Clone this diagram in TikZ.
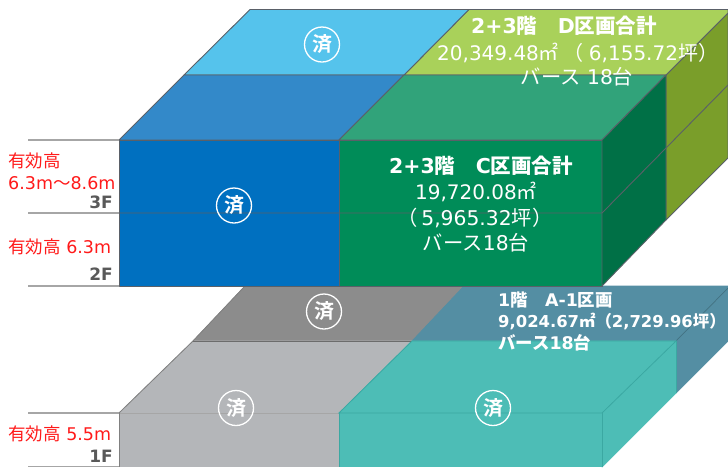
\documentclass[tikz,border=0pt]{standalone}
\usepackage{fontspec}
\setmainfont{DejaVu Sans}
\newfontfamily\cj{Noto Sans CJK JP}
\newfontfamily\cjb{Noto Sans CJK JP Bold}
\definecolor{edgeC}{HTML}{5A6068}
\definecolor{floorC}{HTML}{A6A6A6}
\definecolor{blueF}{HTML}{0070C0}
\definecolor{blueT}{HTML}{3389C9}
\definecolor{blueB}{HTML}{55C3EC}
\definecolor{greenF}{HTML}{008C58}
\definecolor{greenT}{HTML}{31A37A}
\definecolor{greenS}{HTML}{007046}
\definecolor{oliveS}{HTML}{7A9E2A}
\definecolor{oliveT}{HTML}{A9D15A}
\definecolor{grayF}{HTML}{B4B6B9}
\definecolor{grayB}{HTML}{8C8C8C}
\definecolor{tealF}{HTML}{4DBDB6}
\definecolor{tealL}{HTML}{3BA8A2}
\definecolor{steelB}{HTML}{548EA3}
\definecolor{redT}{HTML}{FF1A1A}
\definecolor{floorT}{HTML}{595959}
\tikzset{
  faceUp/.style={draw=edgeC,line width=0.9pt,line join=round},
  faceLow/.style={draw=#1,line width=0.7pt,line join=round},
  floorline/.style={draw=floorC,line width=1.2pt},
  donemark/.style={circle,draw=white,line width=1.3pt,minimum size=35pt,inner sep=0pt,text=white,font=\cjb\fontsize{20}{20}\selectfont},
  redlabel/.style={text=redT,anchor=west,inner sep=0pt,font=\fontsize{17.5}{20}\selectfont},
  floorlabel/.style={text=floorT,anchor=east,inner sep=0pt,font=\bfseries\fontsize{17}{17}\selectfont},
  whitetxt/.style={text=white,align=center,inner sep=0pt},
  bigtxt/.style={whitetxt,font=\fontsize{20.3}{22}\selectfont},
  bigbold/.style={whitetxt,font=\bfseries\fontsize{20.5}{22}\selectfont},
  abold/.style={whitetxt,anchor=west,font=\bfseries\fontsize{17.4}{20}\selectfont}
}
\begin{document}
\begin{tikzpicture}[x=1pt,y=-1pt]
\useasboundingbox (0,0) rectangle (728,467);
\clip (0,0) rectangle (728,467);
% lower block
\draw[faceLow=grayB,fill=grayB] (193,341) -- (245,286) -- (464,286) -- (412,341) -- cycle;
\draw[faceLow=steelB,fill=steelB] (412,341) -- (464,286) -- (728,286) -- (728,341) -- (676,393) -- (676,341) -- cycle;
\draw[faceLow=steelB!80!black] (676,341) -- (728,288);
\draw[faceLow=grayF,fill=grayF] (119,413) -- (193,341) -- (412,341) -- (339,413) -- cycle;
\draw[faceLow=tealF,fill=tealF] (339,413) -- (412,341) -- (676,341) -- (602,413) -- cycle;
\draw[faceLow=tealF,fill=tealF] (602,413) -- (676,341) -- (676,393) -- (602,467) -- cycle;
\fill[grayF] (119,413) rectangle (339,467);
\fill[tealF] (339,413) rectangle (602,467);
\draw[draw=gray,line width=0.8pt] (119,413) -- (193,341) -- (245,286);
\draw[draw=gray!85!black,line width=0.8pt] (193,341) -- (412,341);
\draw[draw=gray!70,line width=1pt] (119,413) -- (339,413);
\draw[draw=gray,line width=0.8pt] (119,413) -- (119,467);
\draw[draw=tealL,line width=0.8pt] (339,413) -- (602,413) -- (676,341) -- (412,341) -- cycle;
\draw[draw=tealL,line width=0.8pt] (602,413) -- (602,467) (676,341) -- (676,393) (339,413) -- (339,467);
% upper block
\draw[faceUp,fill=oliveS] (666,75) -- (728,13) -- (728,158) -- (666,220) -- cycle;
\draw[faceUp,fill=oliveT] (404,75) -- (469,9.5) -- (728,9.5) -- (728,13) -- (666,75) -- cycle;
\draw[faceUp,fill=blueB] (184,75) -- (250,9.5) -- (469,9.5) -- (404,75) -- cycle;
\draw[faceUp,fill=blueT] (119,140) -- (184,75) -- (404,75) -- (339,140) -- cycle;
\draw[faceUp,fill=greenT] (339,140) -- (404,75) -- (666,75) -- (602,140) -- cycle;
\draw[faceUp,fill=blueF] (119,140) rectangle (339,286);
\draw[faceUp,fill=greenF] (339,140) rectangle (602,286);
\draw[faceUp,fill=greenS] (602,140) -- (666,75) -- (666,220) -- (602,286) -- cycle;
\draw[draw=edgeC,line width=0.9pt] (119,213) -- (602,213) -- (666,148) -- (728,85);
% floor lines
\draw[floorline] (28,140) -- (119,140);
\draw[floorline] (28,213) -- (119,213);
\draw[floorline] (28,286) -- (119,286);
\draw[floorline] (28,413) -- (119,413);
\draw[floorline] (28,466.3) -- (119,466.3);
% marks
\node[donemark] (m1) at (322,44.5) {済};
\node[donemark] (m2) at (234,205.5) {済};
\node[donemark] (m3) at (324,311.5) {済};
\node[donemark] (m4) at (236,408) {済};
\node[donemark] (m5) at (493,408) {済};
% D block
\node[bigbold] (d1) at (564,26) {2+3{\cjb 階　}D{\cjb 区画合計}};
\node[bigtxt,anchor=west] (d2) at (437,53) {\fontsize{20}{22}\selectfont 20,349.48{\cj ㎡}\hspace{5pt}{\cj （}\hspace{5pt}6,155.72{\cj 坪）}};
\node[bigtxt] (d3) at (577,77) {{\cj バース} 18{\cj 台}};
% C block
\node[bigbold] (c1) at (481,166) {2+3{\cjb 階　}C{\cjb 区画合計}};
\node[bigtxt] (c2) at (476,192) {\fontsize{20}{22}\selectfont 19,720.08{\cj ㎡}};
\node[bigtxt] (c3) at (475,218) {{\cj （}\,5,965.32{\cj 坪）}};
\node[bigtxt] (c4) at (476,243) {{\cj バース}18{\cj 台}};
% A block
\node[abold] (a1) at (498,300) {1{\cjb 階　}A-1{\cjb 区画}};
\node[abold] (a2) at (498,321) {\fontsize{16.4}{20}\selectfont 9,024.67{\cj ㎡}{\cjb （}2,729.96{\cjb 坪）}};
\node[abold] (a3) at (498,343) {{\cjb バース}18{\cjb 台}};
% left labels
\node[redlabel] (r1) at (8,161) {{\cj 有効高}};
\node[redlabel] (r2) at (8,183) {6.3m{\cj ～}8.6m};
\node[floorlabel] (f3) at (113,202) {3F};
\node[redlabel] (r3) at (8,247) {{\cj 有効高} 6.3m};
\node[floorlabel] (f2) at (113,274) {2F};
\node[redlabel] (r4) at (8,434) {{\cj 有効高} 5.5m};
\node[floorlabel] (f1) at (113,456) {1F};
\end{tikzpicture}
\end{document}
